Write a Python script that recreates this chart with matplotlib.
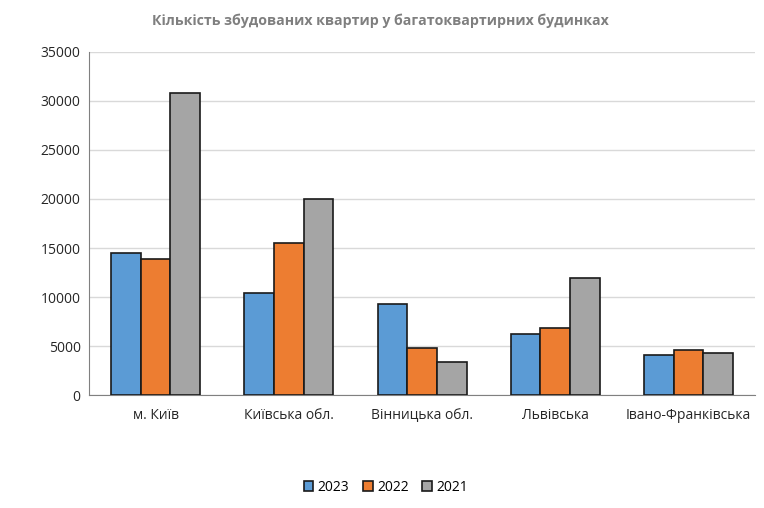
import matplotlib.pyplot as plt
import numpy as np

plt.rcParams['font.family'] = ['Open Sans', 'DejaVu Sans']

regions = ["м. Київ", "Київська обл.", "Вінницька обл.", "Львівська", "Івано-Франківська"]
v2023 = [14450, 10420, 9290, 6220, 4050]
v2022 = [13880, 15540, 4830, 6900, 4560]
v2021 = [30850, 20030, 3370, 11940, 4320]
years = ["2023", "2022", "2021"]
colors = ["#5b9bd5", "#ed7d31", "#a5a5a5"]

fig = plt.figure(figsize=(7.64, 5.08), dpi=100)
ax = fig.add_axes([0.1165, 0.222, 0.872, 0.676])

x = np.arange(len(regions))
w = 0.223
for i, (vals, lab) in enumerate(zip([v2023, v2022, v2021], years)):
    ax.bar(x + (i - 1) * w, vals, w, color=colors[i], edgecolor="#1a1a1a",
           linewidth=1.2, label=lab, zorder=3)

ax.set_xlim(-0.5, len(regions) - 0.5)
ax.set_ylim(0, 35000)
ax.set_yticks(range(0, 35001, 5000))
ax.set_xticks(x)
ax.set_xticklabels(regions)
ax.tick_params(axis="both", length=0, labelsize=10, colors="#262626")
ax.tick_params(axis="x", pad=9)
ax.tick_params(axis="y", pad=6)
ax.grid(axis="y", color="#d9d9d9", linewidth=1, zorder=0)
for s in ["top", "right"]:
    ax.spines[s].set_visible(False)
ax.spines["left"].set_color("#808080")
ax.spines["bottom"].set_color("#808080")

fig.text(0.498, 0.96, "Кількість збудованих квартир у багатоквартирних будинках",
         ha="center", va="center", fontsize=10.2, fontweight="bold", color="#7f7f7f")

fig.legend(loc="center", bbox_to_anchor=(0.505, 0.04), ncol=3, frameon=False,
           fontsize=10, handlelength=0.7, handleheight=0.7, columnspacing=1.0,
           handletextpad=0.3)

fig.savefig("out.png", dpi=100)
